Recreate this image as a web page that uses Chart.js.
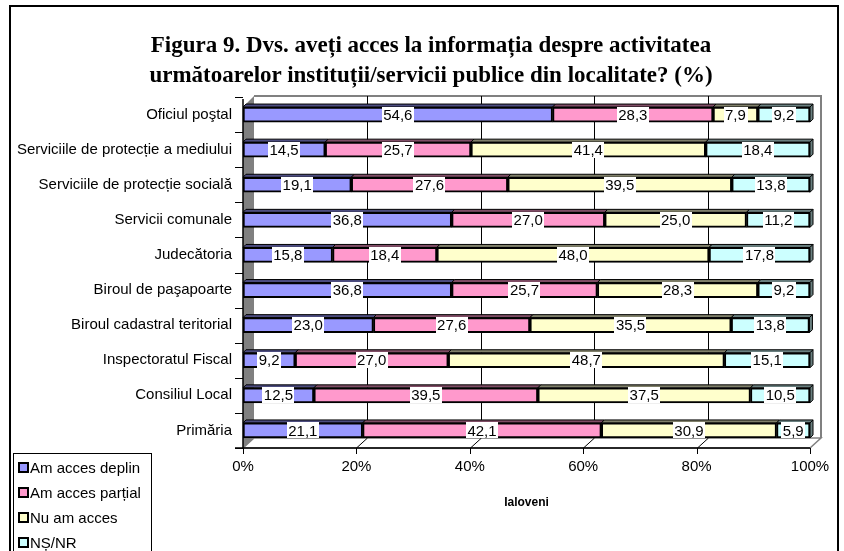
<!DOCTYPE html>
<html>
<head>
<meta charset="utf-8">
<script src="https://cdn.jsdelivr.net/npm/chart.js@4.4.1/dist/chart.umd.min.js"></script>
<style>
  html, body { margin: 0; padding: 0; background: #fff; }
  #wrap { position: relative; width: 844px; height: 551px; overflow: hidden; background: #fff; }
  #c { position: absolute; left: 0; top: 0; }
  #frame { position: absolute; left: 9px; top: 5px; width: 830px; height: 600px; border: 2px solid #000; box-sizing: border-box; pointer-events: none; }
  #title { position: absolute; left: 0; width: 862px; top: 30px; text-align: center; font-family: "Liberation Serif", "Times New Roman", serif; font-weight: bold; font-size: 23px; line-height: 30px; color: #000; }
  #legend { position: absolute; left: 13px; top: 453px; width: 139px; height: 120px; border: 1px solid #000; box-sizing: border-box; background: #fff; font-family: "Liberation Sans", Arial, sans-serif; font-size: 15px; color: #000; }
  .li { position: absolute; left: 4px; height: 18px; line-height: 18px; white-space: nowrap; }
  .sw { display: inline-block; width: 7px; height: 7px; border: 2px solid #000; vertical-align: 0px; margin-right: 1px; }
</style>
</head>
<body>
<div id="wrap">
  <canvas id="c" width="844" height="551"></canvas>
  <div id="frame"></div>
  <div id="title">Figura 9. Dvs. aveți acces la informația despre activitatea<br>următoarelor instituții/servicii publice din localitate? (%)</div>
  <div id="legend"></div>
</div>
<script>
// ---- data ----
const categories = [
  "Oficiul poştal",
  "Serviciile de protecție a mediului",
  "Serviciile de protecție socială",
  "Servicii comunale",
  "Judecătoria",
  "Biroul de paşapoarte",
  "Biroul cadastral teritorial",
  "Inspectoratul Fiscal",
  "Consiliul Local",
  "Primăria"
];
const seriesNames = ["Am acces deplin", "Am acces parțial", "Nu am acces", "NȘ/NR"];
const amAccesDeplin  = [54.6, 14.5, 19.1, 36.8, 15.8, 36.8, 23.0,  9.2, 12.5, 21.1];
const amAccesPartial = [28.3, 25.7, 27.6, 27.0, 18.4, 25.7, 27.6, 27.0, 39.5, 42.1];
const nuAmAcces      = [ 7.9, 41.4, 39.5, 25.0, 48.0, 28.3, 35.5, 48.7, 37.5, 30.9];
const nsNr           = [ 9.2, 18.4, 13.8, 11.2, 17.8,  9.2, 13.8, 15.1, 10.5,  5.9];
const xTickValues = [0, 20, 40, 60, 80, 100];
const xAxisTitle = "Ialoveni";

const fills = ["#9999FF", "#FF99CC", "#FFFFCC", "#CCFFFF"];
const tops  = ["#4d4d80", "#804d66", "#80806a", "#6a8080"];
const FONT = '"Liberation Sans", Arial, sans-serif';

// legend (HTML)
const leg = document.getElementById('legend');
seriesNames.forEach((n, i) => {
  const d = document.createElement('div');
  d.className = 'li';
  d.style.top = (5 + i * 25) + 'px';
  d.innerHTML = '<span class="sw" style="background:' + fills[i] + '"></span>' + n;
  leg.appendChild(d);
});

const DX = 11, DY = 10, D3 = 3;

const scenePlugin = {
  id: 'scene',
  beforeDatasetsDraw(chart) {
    const ctx = chart.ctx;
    const { left: L, right: R, top: T, bottom: B } = chart.chartArea;
    const xs = chart.scales.x;
    ctx.save();
    // floor
    ctx.beginPath();
    ctx.moveTo(L, B); ctx.lineTo(L + DX, B - DY); ctx.lineTo(R + DX, B - DY); ctx.lineTo(R, B); ctx.closePath();
    ctx.fillStyle = '#ffffff'; ctx.fill();
    ctx.strokeStyle = '#808080'; ctx.lineWidth = 1.5; ctx.stroke();
    // back wall border
    ctx.beginPath();
    ctx.moveTo(L + DX, T - 1); ctx.lineTo(R + DX, T - 1); ctx.lineTo(R + DX, B - DY);
    ctx.strokeStyle = '#808080'; ctx.lineWidth = 2; ctx.stroke();
    // gridlines
    ctx.strokeStyle = '#000'; ctx.lineWidth = 1;
    xTickValues.forEach(v => {
      if (v === 0 || v === 100) return;
      const x = Math.round(xs.getPixelForValue(v)) + 0.5;
      ctx.beginPath();
      ctx.moveTo(x + DX, T - 1); ctx.lineTo(x + DX, B - DY);
      ctx.lineTo(x, B);
      ctx.stroke();
    });
    // left wall
    ctx.beginPath();
    ctx.moveTo(L, T + DY); ctx.lineTo(L + DX, T - 1); ctx.lineTo(L + DX, B - DY); ctx.lineTo(L, B); ctx.closePath();
    ctx.fillStyle = '#808080'; ctx.fill();
    // front axes
    ctx.strokeStyle = '#000'; ctx.lineWidth = 1.5;
    ctx.beginPath();
    ctx.moveTo(L, T + 2); ctx.lineTo(L, B);
    ctx.moveTo(L - 8, B); ctx.lineTo(R, B);
    ctx.stroke();
    ctx.lineWidth = 1;
    const n = categories.length;
    ctx.beginPath();
    for (let i = 0; i <= n; i++) {
      const y = Math.round(T + i * (B - T) / n) + 0.5;
      ctx.moveTo(L - 8, y); ctx.lineTo(L, y);
    }
    xTickValues.forEach(v => {
      const x = Math.round(xs.getPixelForValue(v)) + 0.5;
      ctx.moveTo(x, B); ctx.lineTo(x, B + 6);
    });
    ctx.stroke();
    // 3D faces of bars
    const last = chart.data.datasets.length - 1;
    chart.data.datasets.forEach((ds, di) => {
      const meta = chart.getDatasetMeta(di);
      meta.data.forEach(el => {
        const x0 = Math.min(el.base, el.x), x1 = Math.max(el.base, el.x);
        const yT = el.y - el.height / 2, yB = el.y + el.height / 2;
        ctx.beginPath();
        ctx.moveTo(x0, yT); ctx.lineTo(x0 + D3, yT - D3); ctx.lineTo(x1 + D3, yT - D3); ctx.lineTo(x1, yT); ctx.closePath();
        ctx.fillStyle = tops[di]; ctx.fill();
        ctx.strokeStyle = '#000'; ctx.lineWidth = 1; ctx.stroke();
        if (di === last) {
          ctx.beginPath();
          ctx.moveTo(x1, yT); ctx.lineTo(x1 + D3, yT - D3); ctx.lineTo(x1 + D3, yB - D3); ctx.lineTo(x1, yB); ctx.closePath();
          ctx.fillStyle = tops[di]; ctx.fill(); ctx.stroke();
        }
      });
    });
    ctx.restore();
  },
  afterDatasetsDraw(chart) {
    const ctx = chart.ctx;
    ctx.save();
    ctx.font = '15px ' + FONT;
    ctx.textAlign = 'center';
    ctx.textBaseline = 'middle';
    chart.data.datasets.forEach((ds, di) => {
      const meta = chart.getDatasetMeta(di);
      meta.data.forEach((el, i) => {
        const v = ds.data[i];
        const txt = v.toFixed(1).replace('.', ',');
        const cx = (el.x + el.base) / 2, cy = el.y;
        const w = ctx.measureText(txt).width + 3, h = 16;
        ctx.fillStyle = '#fff';
        ctx.fillRect(Math.round(cx - w / 2), Math.round(cy - h / 2), Math.round(w), h);
        ctx.fillStyle = '#000';
        ctx.fillText(txt, cx, cy + 1);
      });
    });
    ctx.restore();
  }
};

const seriesData = [amAccesDeplin, amAccesPartial, nuAmAcces, nsNr];

new Chart(document.getElementById('c'), {
  type: 'bar',
  data: {
    labels: categories,
    datasets: seriesNames.map((n, i) => ({
      label: n,
      data: seriesData[i],
      backgroundColor: fills[i],
      borderColor: '#000',
      borderWidth: 2,
      borderSkipped: false,
      barThickness: 15
    }))
  },
  options: {
    indexAxis: 'y',
    responsive: false,
    animation: false,
    events: [],
    layout: { padding: { left: 0, right: 34, top: 97, bottom: 0 } },
    plugins: { legend: { display: false }, tooltip: { enabled: false }, title: { display: false } },
    scales: {
      x: {
        stacked: true, min: 0, max: 100,
        afterBuildTicks: s => { s.ticks = xTickValues.map(v => ({ value: v })); },
        afterFit: s => { s.height = 103; },
        grid: { display: false, drawTicks: false },
        border: { display: false },
        ticks: { color: '#000', font: { family: FONT, size: 15 }, padding: 10, maxRotation: 0, callback: v => v + '%' },
        title: { display: true, text: xAxisTitle, color: '#000', font: { family: FONT, size: 12, weight: 'bold' }, padding: { top: 0, bottom: 41 } }
      },
      y: {
        stacked: true,
        afterFit: s => { s.width = 243; },
        grid: { display: false, drawTicks: false },
        border: { display: false },
        ticks: { color: '#000', font: { family: FONT, size: 15 }, padding: 11 }
      }
    }
  },
  plugins: [scenePlugin]
});
</script>
</body>
</html>
